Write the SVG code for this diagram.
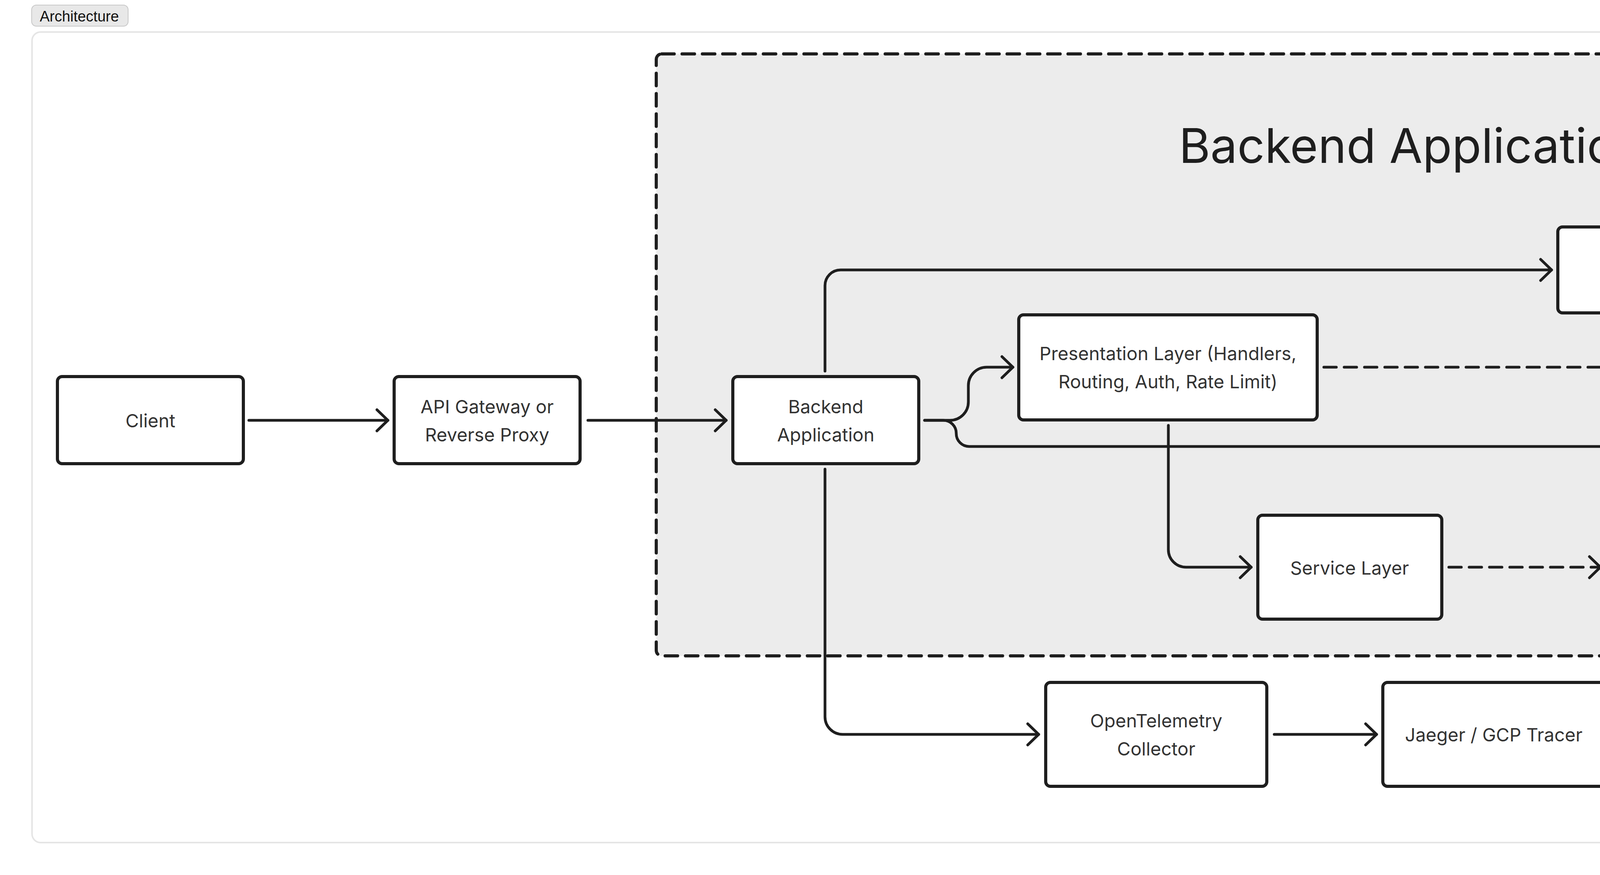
<svg xmlns="http://www.w3.org/2000/svg" width="6112" height="2240" viewBox="0 0 6112 2240">
<style>
.node rect{fill:#ffffff;stroke:#1e1e1e;stroke-width:8}
.node text{font-family:Inter,"Noto Sans",sans-serif;font-size:47px;fill:#333333;text-anchor:middle}
.bold{font-weight:700}
.edge{fill:none;stroke:#1e1e1e;stroke-width:7;stroke-linecap:round;stroke-linejoin:round}
.dash{stroke-dasharray:32 20}
.ah{fill:none;stroke:#1e1e1e;stroke-width:7;stroke-linecap:round;stroke-linejoin:round}
</style>
<defs>
<marker id="arr" markerUnits="userSpaceOnUse" markerWidth="80" markerHeight="80" refX="0" refY="0" orient="auto" overflow="visible">
<path class="ah" d="M-28,-27 L0,0 L-28,27"/>
</marker>
</defs>
<rect x="0" y="0" width="6112" height="2240" fill="#ffffff"/>
<g id="tag">
<rect x="81" y="13" width="247" height="54" rx="12" fill="#e8e8e8" stroke="#c8c8c8" stroke-width="2"/>
<text x="203" y="55" font-family="'Liberation Sans',Arial,sans-serif" font-size="38" fill="#111111" text-anchor="middle">Architecture</text>
</g>
<rect id="frame" x="82" y="82" width="5948" height="2075" rx="22" fill="#ffffff" stroke="#e5e5e5" stroke-width="4"/>
<g id="group-backend">
<rect x="1680" y="138" width="4288" height="1541" rx="14" fill="#ececec" stroke="#1e1e1e" stroke-width="8" stroke-dasharray="32 20" stroke-linecap="round"/>
<text x="3824" y="417" font-family="Inter,'Noto Sans',sans-serif" font-size="123" fill="#1e1e1e" text-anchor="middle">Backend Application Layers</text>
</g>
<g id="connectors">
<path class="edge" marker-end="url(#arr)" d="M637,1076 H993"/>
<path class="edge" marker-end="url(#arr)" d="M1505,1076 H1859"/>
<path class="edge" marker-end="url(#arr)" d="M2367,1076 H2432 A47 47 0 0 0 2479 1029 V987 A47 47 0 0 1 2526 940 H2593"/>
<path class="edge" marker-end="url(#arr)" d="M2367,1076 H2415 A33 33 0 0 1 2448 1109 V1110 A33 33 0 0 0 2481 1143 H5090"/>
<path class="edge" marker-end="url(#arr)" d="M2112,950 V731 A40 40 0 0 1 2152 691 H3972"/>
<path class="edge" marker-end="url(#arr)" d="M2112,1201 V1835 A45 45 0 0 0 2157 1880 H2659"/>
<path class="edge" marker-end="url(#arr)" d="M3262,1880 H3524"/>
<path class="edge dash" marker-end="url(#arr)" d="M3389,940 H4183 A40 40 0 0 0 4223 900 V819"/>
<path class="edge" marker-end="url(#arr)" d="M2991,1089 V1407 A45 45 0 0 0 3036 1452 H3203"/>
<path class="edge dash" marker-end="url(#arr)" d="M3709,1452 H4097"/>
<path class="edge" marker-end="url(#arr)" d="M4702,1452 H4843 A50 50 0 0 0 4893 1402 V1193 A50 50 0 0 1 4943 1143 H5090"/>
</g>
<g id="client" class="node">
<rect x="147" y="964" width="476" height="223" rx="12"/>
<text x="385" y="1094">Client</text>
</g>
<g id="api-gateway" class="node">
<rect x="1009" y="964" width="476" height="223" rx="12"/>
<text x="1247" y="1058">API Gateway or</text>
<text x="1247" y="1130">Reverse Proxy</text>
</g>
<g id="backend-app" class="node">
<rect x="1876" y="964" width="476" height="223" rx="12"/>
<text x="2114" y="1058">Backend</text>
<text x="2114" y="1130">Application</text>
</g>
<g id="presentation" class="node">
<rect x="2608" y="806" width="764" height="269" rx="12"/>
<text x="2990" y="922">Presentation Layer (Handlers,</text>
<text x="2990" y="994">Routing, Auth, Rate Limit)</text>
</g>
<g id="redis" class="node">
<rect x="3988" y="581" width="472" height="220" rx="12"/>
<text x="4224" y="674">Redis</text>
<text x="4224" y="746">(Rate Limit)</text>
</g>
<g id="service" class="node">
<rect x="3220" y="1319" width="471" height="266" rx="12"/>
<text x="3455" y="1471">Service Layer</text>
</g>
<g id="data-access" class="node">
<rect x="4114" y="1319" width="570" height="266" rx="12"/>
<text x="4399" y="1435">Data Access Layer</text>
<text x="4399" y="1507">(GORM)</text>
</g>
<g id="mysql" class="node">
<rect x="5109" y="1010" width="567" height="266" rx="12"/>
<text class="bold" x="5392" y="1162">MySQL Database</text>
</g>
<g id="otel" class="node">
<rect x="2677" y="1747" width="566" height="266" rx="12"/>
<text x="2960" y="1862">OpenTelemetry</text>
<text x="2960" y="1934">Collector</text>
</g>
<g id="jaeger" class="node">
<rect x="3540" y="1747" width="568" height="266" rx="12"/>
<text x="3824" y="1898">Jaeger / GCP Tracer</text>
</g>
</svg>
